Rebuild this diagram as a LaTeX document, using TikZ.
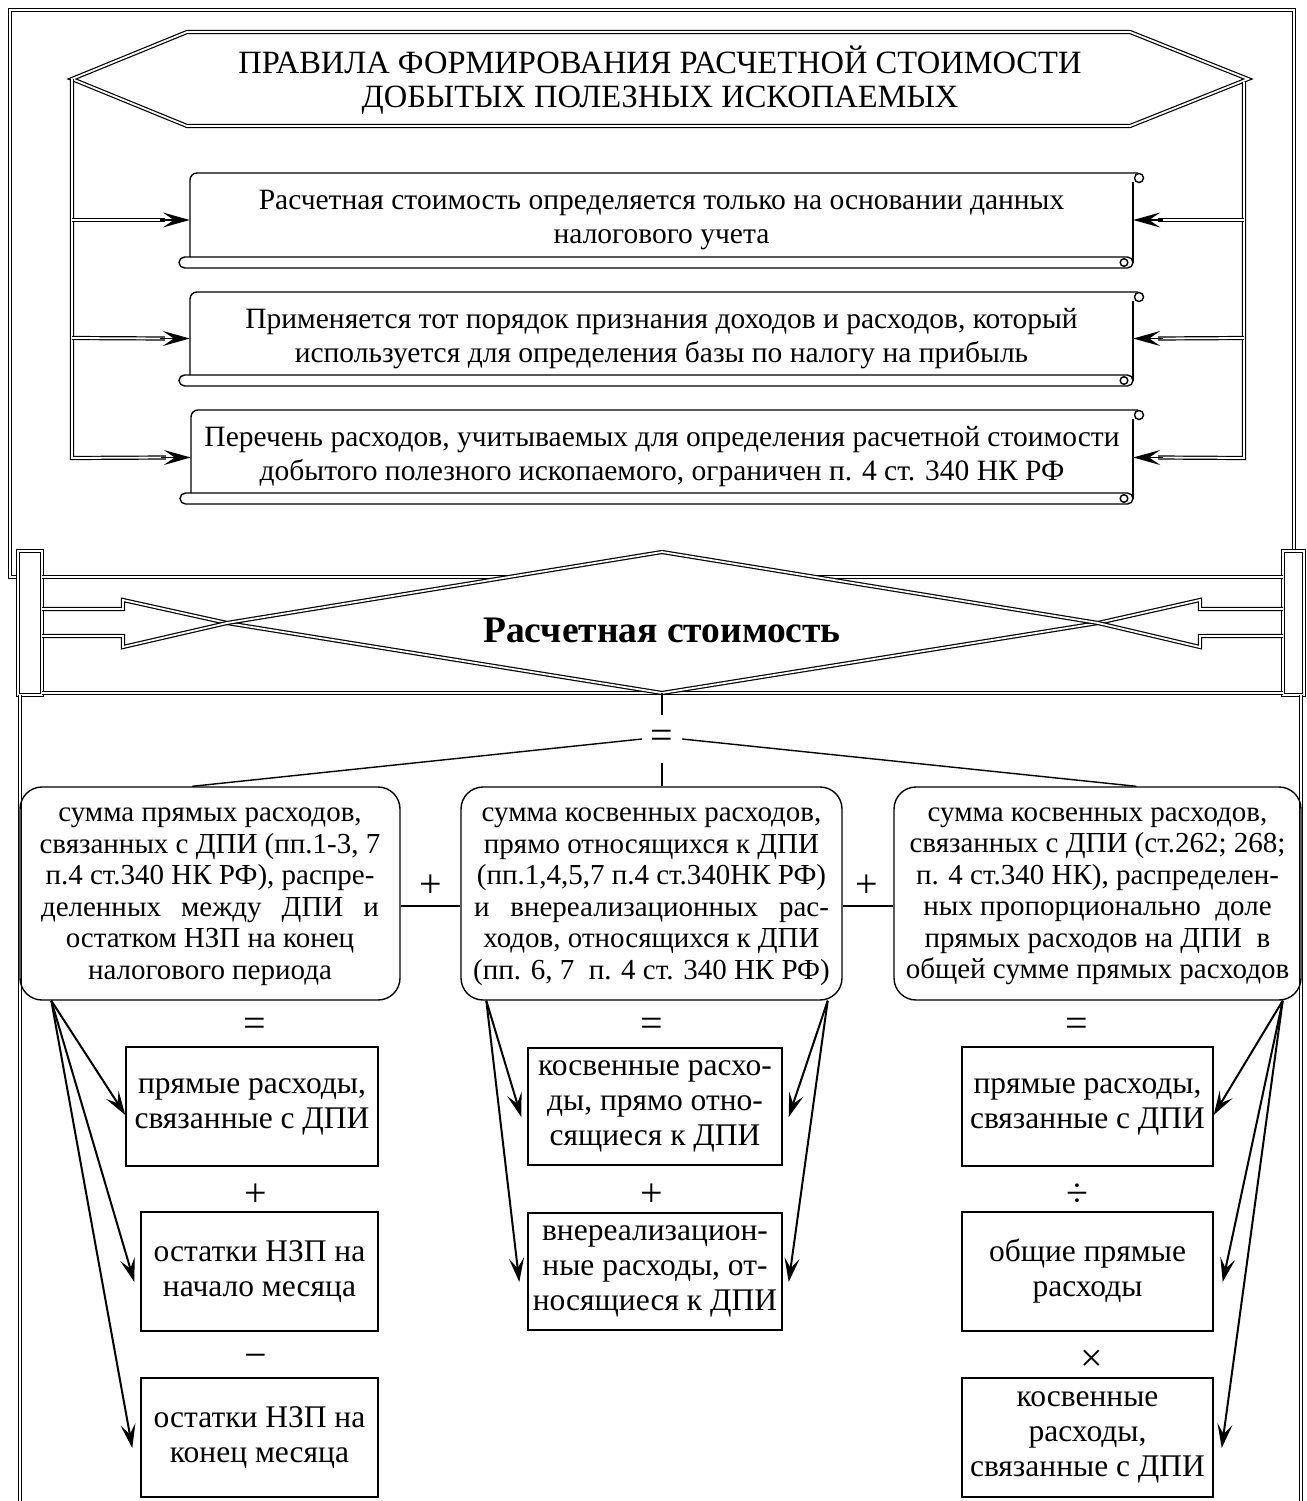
\documentclass[tikz,border=0pt]{standalone}
\usepackage{fontspec}
\setmainfont{Liberation Serif}
\usetikzlibrary{arrows.meta,calc}
\newcommand\bodysize{\fontsize{29.5}{34.5}\selectfont}
\newcommand\boxsize{\fontsize{29}{31.5}\selectfont}
\newcommand\cellsize{\fontsize{31.5}{35}\selectfont}
\newcommand\headsize{\fontsize{32.5}{34}\selectfont}
\newcommand\keysize{\bfseries\fontsize{37.5}{40}\selectfont}
\newcommand\signsize{\fontsize{40}{40}\selectfont}
% scroll-shaped panel: name, left, top, right, bottom (top of the roll), text
\newcommand\scrollpanel[6]{%
  \draw[thin, rounded corners=7pt] (#2,#5) -- (#2,#3) -- (#4+5,#3);
  \draw[thin] (#4+6,#3+5) circle[radius=4.5];
  \draw[thin] (#4,#3+9) -- (#4,#5+6);
  \draw[thin, rounded corners=5.5pt] (#2-11,#5) rectangle (#4,#5+11);
  \draw[thin] (#4-9,#5+5.5) circle[radius=3.8];
  \node[minimum width={#4-#2}, minimum height={#5-#3}, inner sep=0pt] (#1) at ({(#2+#4)/2},{(#3+#5)/2}) {};
  \node[txt] (#1text) at ($(#1)+(0,5)$) {#6};
}
\begin{document}
\begin{tikzpicture}[x=1pt,y=-1pt, line join=miter,
  dbl/.style={double, draw=black, line width=1.2pt, double distance=1.8pt},
  thin/.style={line width=1.4pt},
  headA/.style={-{Stealth[length=27pt,width=15pt,inset=11pt]}, line width=1.5pt},
  headB/.style={-{Stealth[length=24pt,width=15pt,inset=10pt]}, line width=2pt},
  txt/.style={font=\bodysize, align=center, inner sep=0pt},
  rbox/.style={draw, thin, rounded corners=22pt, inner sep=0pt},
  rtext/.style={font=\boxsize, align=center, inner sep=0pt},
  pbox/.style={draw, thin, font=\cellsize, align=center, inner sep=0pt},
  sign/.style={font=\signsize, inner sep=0pt}]
\useasboundingbox (0,0) rectangle (1306,1501);

% ---------- upper frame ----------
\draw[dbl] (18,577) -- (10,577) -- (10,10) -- (1294,10) -- (1294,551);

% title hexagon
\coordinate (hl) at (72,79);
\coordinate (hr) at (1248,79);
\draw[dbl] (hl) -- (187,32) -- (1130,32) -- (hr) -- (1130,126) -- (187,126) -- cycle;
\node[txt, font=\headsize] (title) at (660,80) {ПРАВИЛА ФОРМИРОВАНИЯ РАСЧЕТНОЙ СТОИМОСТИ\\ДОБЫТЫХ ПОЛЕЗНЫХ ИСКОПАЕМЫХ};

% three rules
\scrollpanel{r1}{190}{173}{1133}{257}{Расчетная стоимость определяется только на основании данных\\налогового учета}
\scrollpanel{r2}{190}{292}{1133}{375}{Применяется тот порядок признания доходов и расходов, который\\используется для определения базы по налогу на прибыль}
\scrollpanel{r3}{191}{410}{1133}{493}{Перечень расходов, учитываемых для определения расчетной стоимости\\добытого полезного ископаемого, ограничен п. 4 ст. 340 НК РФ}

\coordinate (r1l) at ($(r1.west)+(0,5)$);
\coordinate (r2l) at ($(r2.west)+(0,5)$);
\coordinate (r3l) at ($(r3.west)+(0,6)$);
\coordinate (r1r) at ($(r1.east)+(0,5)$);
\coordinate (r2r) at ($(r2.east)+(0,5)$);
\coordinate (r3r) at ($(r3.east)+(0,6)$);

% left rail
\draw[dbl] (hl) -- (72,458) -- ($(r3l)+(-25,0)$);
\draw[dbl] (72,220) -- ($(r1l)+(-25,0)$);
\draw[dbl] (72,338) -- ($(r2l)+(-25,0)$);
\draw[headA] ($(r1l)+(-30,0)$) -- (r1l);
\draw[headA] ($(r2l)+(-30,0)$) -- (r2l);
\draw[headA] ($(r3l)+(-30,0)$) -- (r3l);
% right rail
\draw[dbl] (1244,82) -- (1244,458) -- ($(r3r)+(25,0)$);
\draw[dbl] (1244,220) -- ($(r1r)+(25,0)$);
\draw[dbl] (1244,338) -- ($(r2r)+(25,0)$);
\draw[headA] ($(r1r)+(30,0)$) -- (r1r);
\draw[headA] ($(r2r)+(30,0)$) -- (r2r);
\draw[headA] ($(r3r)+(30,0)$) -- (r3r);

% ---------- central band ----------
\draw[dbl] (18,551) rectangle (42,695);
\draw[dbl] (1283,551) rectangle (1304,695);
\draw[dbl] (42,577) -- (1283,577);
\draw[dbl] (42,693) -- (1283,693);
\coordinate (dtop) at (662,552);
\coordinate (dbot) at (662,693);
\coordinate (dl) at (227,623);
\coordinate (dr) at (1098,623);
\fill[white] (dl) -- (dtop) -- (dr) -- (dbot) -- cycle;
\draw[dbl] (42,609) -- (123,609) -- (123,600) -- (dl) -- (dbot);
\draw[dbl] (42,636) -- (123,636) -- (123,647) -- (dl) -- (dtop);
\draw[dbl] (1283,609) -- (1200,609) -- (1200,600) -- (dr) -- (dbot);
\draw[dbl] (1283,636) -- (1200,636) -- (1200,647) -- (dr) -- (dtop);
\node[inner sep=0pt, font=\keysize] (cost) at (662,630) {Расчетная стоимость};

% ---------- lower frame ----------
\draw[dbl] (20,695) -- (20,1501);
\draw[dbl] (1301,695) -- (1301,1501);

\node[sign, minimum width=40pt, minimum height=48pt] (eq) at (662,739) {=};
\draw[thin] (dbot) -- (eq.north);

\node[rbox, minimum width=380pt, minimum height=213pt] (lb) at (210,893.5) {};
\node[rtext] (lbtext) at ($(lb)+(0,3)$)
  {сумма прямых расходов,\\связанных с ДПИ (пп.1-3, 7\\п.4 ст.340 НК РФ), распре-\\\makebox[338pt][s]{деленных между ДПИ и}\\остатком НЗП на конец\\налогового периода};
\node[rbox, minimum width=381pt, minimum height=213pt] (mb) at (651.5,893.5) {};
\node[rtext] (mbtext) at ($(mb)+(0,3)$)
  {сумма косвенных расходов,\\прямо относящихся к ДПИ\\(пп.1,4,5,7 п.4 ст.340НК РФ)\\\makebox[355pt][s]{и внереализационных рас-}\\ходов, относящихся к ДПИ\\(пп. 6, 7\ \ п. 4 ст. 340 НК РФ)};
\node[rbox, minimum width=407pt, minimum height=213pt] (rb) at (1097.5,893.5) {};
\node[rtext] (rbtext) at ($(rb)+(0,3)$)
  {сумма косвенных расходов,\\связанных с ДПИ (ст.262; 268;\\п. 4 ст.340 НК), распределен-\\ных пропорционально\ \ доле\\прямых расходов на ДПИ\ \ в\\общей сумме прямых расходов};

\draw[thin] (eq.west) -- ($(lb.north west)+(173,0)$);
\draw[thin] (eq.east) -- ($(rb.north west)+(243,0)$);
\draw[thin] (eq.south) -- (eq.south |- mb.north);

\draw[thin] ($(lb.east)+(0,12.5)$) -- ($(mb.west)+(0,12.5)$);
\draw[thin] ($(mb.east)+(0,12.5)$) -- ($(rb.west)+(0,12.5)$);
\node[sign] (p1) at (431,886) {+};
\node[sign] (p2) at (867,886) {+};

% left column
\node[sign] (le) at (255,1027) {=};
\node[pbox, minimum width=252pt, minimum height=119pt] (l1) at (252,1106.5) {прямые расходы,\\связанные с ДПИ};
\node[sign] (lp) at (256,1195) {+};
\node[pbox, minimum width=237pt, minimum height=119pt] (l2) at (259.5,1271.5) {остатки НЗП на\\начало месяца};
\node[sign] (lm) at (256,1361) {−};
\node[pbox, minimum width=237pt, minimum height=119pt] (l3) at (259.5,1437.5) {остатки НЗП на\\конец месяца};

% middle column
\node[sign] (me) at (652,1027) {=};
\node[pbox, minimum width=254pt, minimum height=117pt] (m1) at (655,1106.5) {косвенные расхо-\\ды, прямо отно-\\сящиеся к ДПИ};
\node[sign] (mp) at (652,1195) {+};
\node[pbox, minimum width=254pt, minimum height=117pt] (m2) at (655,1271.5) {внереализацион-\\ные расходы, от-\\носящиеся к ДПИ};

% right column
\node[sign] (re) at (1077,1027) {=};
\node[pbox, minimum width=251pt, minimum height=119pt] (q1) at (1087.5,1106.5) {прямые расходы,\\связанные с ДПИ};
\node[sign] (rd) at (1077,1195) {÷};
\node[pbox, minimum width=251pt, minimum height=119pt] (q2) at (1087.5,1271.5) {общие прямые\\расходы};
\node[sign] (rx) at (1092,1361) {×};
\node[pbox, minimum width=251pt, minimum height=119pt] (q3) at (1087.5,1437.5) {косвенные\\расходы,\\связанные с ДПИ};

% breakdown arrows
\coordinate (lf) at ($(lb.south west)+(32,0)$);
\coordinate (mfl) at ($(mb.south west)+(26,0)$);
\coordinate (mfr) at ($(mb.south east)+(-15,0)$);
\coordinate (rf) at ($(rb.south east)+(-19,0)$);
\draw[headB] (lf) -- ($(l1.west)+(0,8.5)$);
\draw[headB] (lf) -- ($(l2.west)+(-6,10.5)$);
\draw[headB] (lf) -- ($(l3.west)+(-8,10.5)$);
\draw[headB] (mfl) -- ($(m1.west)+(-6,10.5)$);
\draw[headB] (mfl) -- ($(m2.west)+(-8,10.5)$);
\draw[headB] (mfr) -- ($(m1.east)+(6,10.5)$);
\draw[headB] (mfr) -- ($(m2.east)+(6,10.5)$);
\draw[headB] (rf) -- ($(q1.east)+(0,8.5)$);
\draw[headB] (rf) -- ($(q2.east)+(9,10.5)$);
\draw[headB] (rf) -- ($(q3.east)+(8,10.5)$);
\end{tikzpicture}
\end{document}
